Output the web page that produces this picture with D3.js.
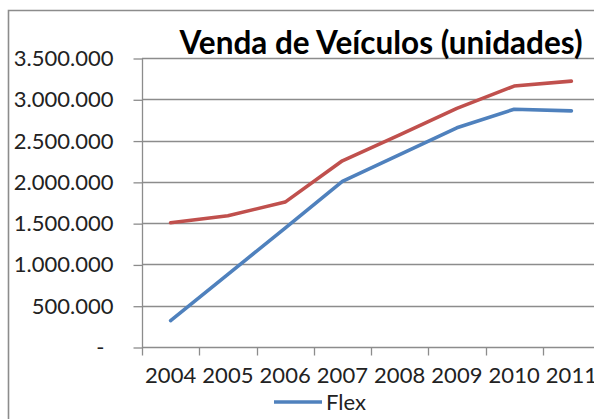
<!DOCTYPE html>
<html lang="pt">
<head>
  <meta charset="UTF-8">
  <title>Venda de Veículos (unidades)</title>
  <script src="https://d3js.org/d3.v7.min.js"></script>
  <style>
    body { margin: 0; background: #fff; font-family: Lato, "Open Sans", sans-serif; }
    .grid line { stroke: #8c8c8c; stroke-width: 1.3px; }
    .axis path, .axis line { stroke: #8c8c8c; stroke-width: 1.3px; }
    .axis text { fill: #222; font-size: 22px; font-family: Lato, "Open Sans", sans-serif; }
    .series { fill: none; stroke-width: 3.6px; stroke-linejoin: round; stroke-linecap: round; }
  </style>
</head>
<body>
  <div id="chart"></div>
  <script>
    const years = ["2004", "2005", "2006", "2007", "2008", "2009", "2010", "2011"];
    const totalSales = [1505000, 1590000, 1755000, 2255000, 2570000, 2890000, 3160000, 3220000];
    const flexSales = [320000, 880000, 1440000, 2005000, 2330000, 2655000, 2880000, 2860000];
    const yTicks = [0, 500000, 1000000, 1500000, 2000000, 2500000, 3000000, 3500000];

    const width = 594, height = 419;
    const plotLeft = 142, plotRight = 600, plotTop = 58, plotBottom = 347;

    const svg = d3.select("#chart").append("svg")
      .attr("width", width)
      .attr("height", height);

    // outer chart border (clipped on the right and bottom like the original)
    svg.append("path")
      .attr("d", `M8.5,${height + 2}V10.5H${width + 2}`)
      .attr("fill", "none")
      .attr("stroke", "#8c8c8c")
      .attr("stroke-width", 1.6);

    const x = d3.scaleBand().domain(years).range([plotLeft, plotRight]);
    const y = d3.scaleLinear().domain([0, 3500000]).range([plotBottom, plotTop]);

    const br = d3.formatLocale({ decimal: ",", thousands: ".", grouping: [3], currency: ["R$", ""] });
    const fmt = br.format(",d");

    svg.append("g")
      .attr("class", "grid")
      .selectAll("line")
      .data(yTicks.filter(d => d > 0))
      .enter().append("line")
      .attr("x1", plotLeft).attr("x2", width)
      .attr("y1", d => Math.round(y(d)) + 0.5)
      .attr("y2", d => Math.round(y(d)) + 0.5);

    const yAxis = svg.append("g")
      .attr("class", "axis")
      .attr("transform", `translate(${plotLeft + 0.5},0.5)`)
      .call(d3.axisLeft(y).tickValues(yTicks).tickSize(9).tickPadding(20)
        .tickFormat(d => d === 0 ? "-" : fmt(d)));
    yAxis.select(".domain").attr("d", `M0,${plotTop}V${plotBottom}`);
    yAxis.selectAll("text").filter(d => d === 0).attr("dx", -9);

    const xAxis = svg.append("g")
      .attr("class", "axis")
      .attr("transform", `translate(0,${plotBottom + 0.5})`)
      .call(d3.axisBottom(x).tickSize(0).tickPadding(20));
    xAxis.select(".domain").attr("d", `M${plotLeft},0H${width}`);
    xAxis.selectAll(".tick line").remove();
    xAxis.selectAll(".sep")
      .data(d3.range(years.length + 1))
      .enter().append("line")
      .attr("class", "sep")
      .attr("x1", i => Math.round(plotLeft + i * x.step()) + 0.5)
      .attr("x2", i => Math.round(plotLeft + i * x.step()) + 0.5)
      .attr("y1", 0).attr("y2", 8);

    const line = d3.line()
      .x((d, i) => x(years[i]) + x.bandwidth() / 2)
      .y(d => y(d));

    svg.append("path")
      .attr("class", "series")
      .attr("stroke", "#C0504D")
      .attr("d", line(totalSales));

    svg.append("path")
      .attr("class", "series")
      .attr("stroke", "#4F81BD")
      .attr("d", line(flexSales));

    svg.append("text")
      .attr("x", 381)
      .attr("y", 54)
      .attr("text-anchor", "middle")
      .attr("font-size", 31.5)
      .attr("font-weight", "bold")
      .attr("fill", "#000")
      .text("Venda de Veículos (unidades)");

    // legend (only the Flex entry is visible)
    const legend = svg.append("g").attr("transform", "translate(274,402)");
    legend.append("line")
      .attr("x1", 0).attr("x2", 48)
      .attr("stroke", "#4F81BD")
      .attr("stroke-width", 3.6);
    legend.append("text")
      .attr("x", 52)
      .attr("y", 8)
      .attr("font-size", 22)
      .attr("fill", "#222")
      .text("Flex");
  </script>
</body>
</html>
